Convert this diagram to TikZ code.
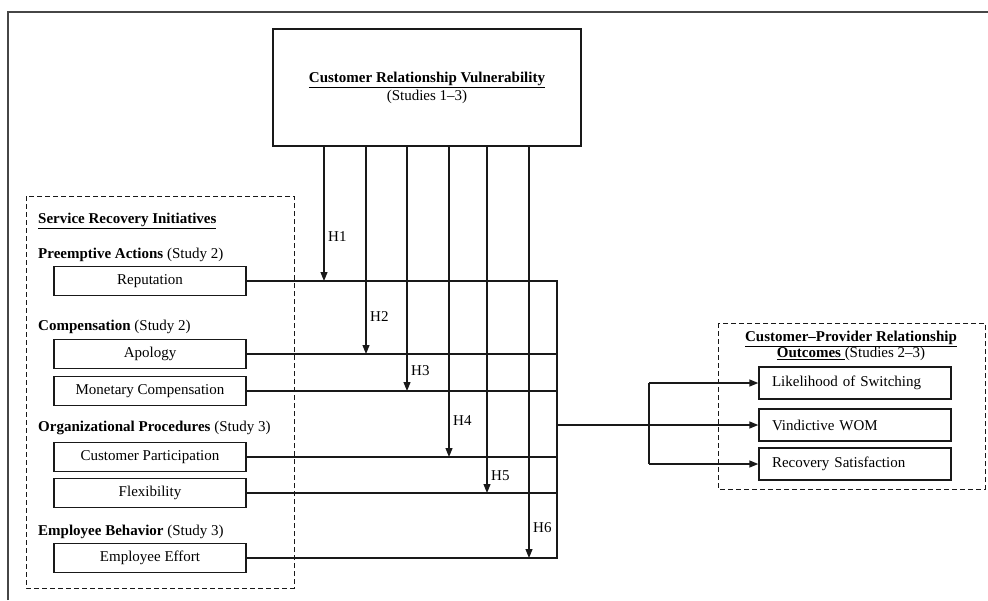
\documentclass[tikz,border=0pt]{standalone}
\usepackage{fontspec}
\setmainfont{Liberation Serif}
\usepackage{tikz}
\usetikzlibrary{arrows.meta, positioning, calc}
\definecolor{cadre}{RGB}{70,70,70}
\definecolor{trait}{RGB}{25,25,25}

\begin{document}
\begin{tikzpicture}[x=1pt, y=-1pt, font=\fontsize{15}{18}\selectfont,
	boite/.style={draw=trait, line width=1.4pt, minimum width=192pt, minimum height=29pt, inner sep=0pt},
	lien/.style={draw=trait, line width=2pt},
	sortie/.style={draw=trait, line width=1.4pt},
	pointe/.style={-{Triangle[length=9pt, width=7pt]}},
	hypo/.style={draw=trait, line width=1.1pt, pointe},
	pointille/.style={draw=trait, line width=1pt, dash pattern=on 5pt off 3pt},
	titre/.style={anchor=west, inner sep=0pt}]
	\useasboundingbox (0,0) rectangle (988,600);
	
	% cadre
	\draw[cadre, line width=2pt] (8,600) -- (8,12) -- (988,12);
	
	% vulnerabilite
	\node[boite, minimum width=308pt, minimum height=117pt, align=center] (vuln) at (427,87.5)
		{\textbf{\underline{Customer Relationship Vulnerability}}\\(Studies 1--3)};
	
	% initiatives
	\draw[pointille] (26,196) rectangle (294,588);
	\node[titre] (sri) at (38,221) {\textbf{\underline{Service Recovery Initiatives}}};
	\node[titre] (pre) at (38,255) {\textbf{Preemptive Actions} (Study 2)};
	\node[titre] (comp) at (38,327) {\textbf{Compensation} (Study 2)};
	\node[titre] (org) at (38,428) {\textbf{Organizational Procedures} (Study 3)};
	\node[titre] (emp) at (38,532) {\textbf{Employee Behavior} (Study 3)};
	
	\node[boite] (rep) at (150,281) {Reputation};
	\node[boite] (apol) at (150,354) {Apology};
	\node[boite] (mon) at (150,391) {Monetary Compensation};
	\node[boite] (cpart) at (150,457) {Customer Participation};
	\node[boite] (flex) at (150,493) {Flexibility};
	\node[boite] (effort) at (150,558) {Employee Effort};
	
	% bus
	\coordinate (bus) at (557,0);
	\draw[lien] (rep.east) -- (rep.east -| bus) -- (effort.east -| bus) -- (effort.east);
	\foreach \b in {apol,mon,cpart,flex}
		\draw[lien] (\b.east) -- (\b.east -| bus);
	
	% hypotheses
	\foreach \x/\cible/\ly [count=\i] in {324/rep/237, 366/apol/317, 407/mon/371, 449/cpart/421, 487/flex/476, 529/effort/528}{
		\coordinate (h\i) at (\x,0);
		\draw[hypo] (vuln.south -| h\i) -- (\cible.east -| h\i);
		\node[anchor=west, inner sep=0pt, xshift=4pt] (lh\i) at (\x,\ly) {H\i};
	}
	
	% resultats
	\draw[pointille] (718,323) rectangle (985,489);
	\node[align=center, inner sep=0pt, font=\fontsize{15}{15}\selectfont] (res) at (851,346)
		{\textbf{\underline{Customer--Provider Relationship}}\\\textbf{\underline{Outcomes\ }}(Studies 2--3)};
	
	\node[boite, minimum height=32pt, text width=166pt, inner xsep=13pt, align=left] (switch) at (855,383) {Likelihood of Switching};
	\node[boite, minimum height=32pt, text width=166pt, inner xsep=13pt, align=left] (wom) at (855,425) {Vindictive WOM};
	\node[boite, minimum height=32pt, text width=166pt, inner xsep=13pt, align=left] (satis) at (855,464) {Recovery Satisfaction};
	
	\coordinate (branch) at (649,0);
	\draw[lien] (bus |- wom.west) -- (branch |- wom.west);
	\draw[sortie] (branch |- switch.west) -- (branch |- satis.west);
	\foreach \b in {switch,wom,satis}
		\draw[sortie, pointe] (branch |- \b.west) -- (\b.west);
\end{tikzpicture}
\end{document}
